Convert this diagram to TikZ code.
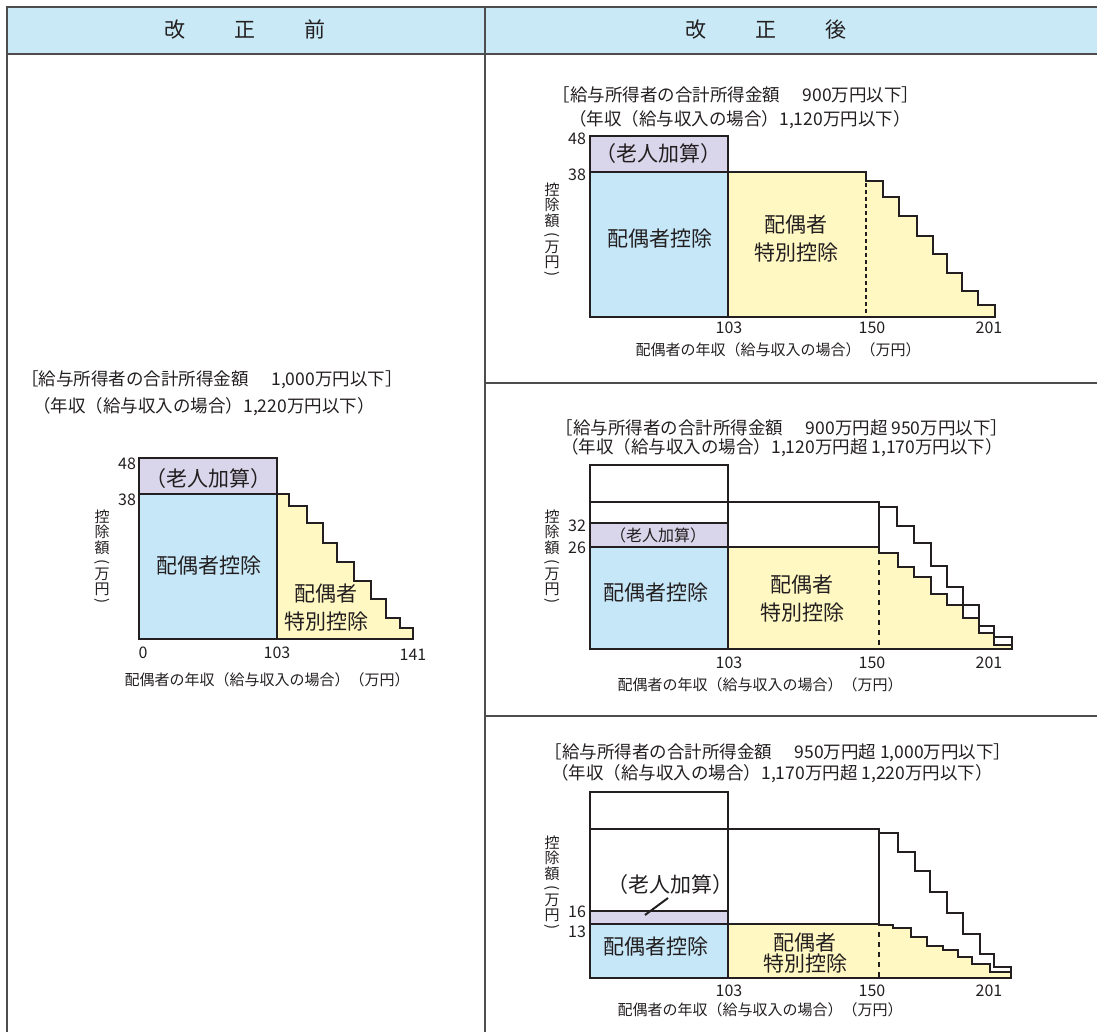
\documentclass[tikz,border=0pt]{standalone}
\usepackage{fontspec}
\setmainfont{Noto Sans CJK JP}
\definecolor{ink}{HTML}{231F20}
\definecolor{hdrblue}{HTML}{C8E9F5}
\definecolor{fblue}{HTML}{C6E7F8}
\definecolor{fpurple}{HTML}{D9D5EA}
\definecolor{fyellow}{HTML}{FFF8C2}
\tikzset{
  ol/.style={draw=ink, line width=2.6pt, line join=miter, line cap=rect},
  rule/.style={draw=ink!80, line width=1.2pt},
  ttl/.style={font=\fontsize{17.5}{20}\selectfont, inner sep=0pt, text=ink},
  hdr/.style={font=\fontsize{21}{24}\selectfont, inner sep=0pt, text=ink},
  lab/.style={font=\fontsize{21}{28}\selectfont, inner sep=0pt, text=ink, align=center},
  sublab/.style={font=\fontsize{16}{19}\selectfont, inner sep=0pt, text=ink},
  num/.style={font=\fontsize{16}{19}\selectfont, inner sep=0pt, text=ink},
  xcap/.style={font=\fontsize{15}{18}\selectfont, inner sep=0pt, text=ink},
  ycap/.style={font=\fontsize{15}{15}\selectfont, inner sep=0pt, text=ink},
  dsh/.style={draw=ink, line width=1.2pt, dash pattern=on 4pt off 3pt},
  dshb/.style={draw=ink, line width=2.4pt, dash pattern=on 5pt off 5pt},
}
\newcommand{\gap}{　\hspace{5pt}}
% vertical axis caption: name prefix, x, y of first character
\newcommand{\ylab}[3]{%
  \node[ycap] (#1a) at (#2,#3) {控};
  \node[ycap] (#1b) at (#2,#3+15) {除};
  \node[ycap] (#1c) at (#2,#3+31) {額};
  \node[ycap, rotate=-90] (#1d) at (#2,#3+45) {(};
  \node[ycap] (#1e) at (#2,#3+57) {万};
  \node[ycap] (#1f) at (#2,#3+72) {円};
  \node[ycap, rotate=-90] (#1g) at (#2,#3+84) {)};
}
\begin{document}
\begin{tikzpicture}[x=1pt,y=-1pt]
\useasboundingbox (0,0) rectangle (1097,1032);
% ---------- frame ----------
\fill[hdrblue] (7,7) rectangle (1097,54);
\draw[rule] (1097,7) -- (7,7) -- (7,1032);
\draw[rule] (7,54) -- (1097,54);
\draw[rule] (485,7) -- (485,1032);
\draw[rule] (485,383) -- (1097,383);
\draw[rule] (485,716) -- (1097,716);
\node[hdr] (hL) at (245,30) {改\hspace{49pt}正\hspace{49pt}前};
\node[hdr] (hR) at (766,30) {改\hspace{49pt}正\hspace{49pt}後};

% ================= LEFT (before) =================
\node[ttl] (L1) at (212,380) {［給与所得者の合計所得金額\gap 1,000万円以下］};
\node[ttl] (L2) at (204,407) {（年収（給与収入の場合）1,220万円以下）};
\fill[fpurple] (139,458) rectangle (277,494);
\fill[fblue] (139,494) rectangle (277,639);
\fill[fyellow] (277,494) -- (289,494) -- (289,506) -- (307,506) -- (307,523) -- (323,523) -- (323,543) -- (337,543) -- (337,562) -- (354,562) -- (354,581) -- (371,581) -- (371,599) -- (386,599) -- (386,618) -- (400,618) -- (400,628) -- (413,628) -- (413,639) -- (277,639) -- cycle;
\draw[ol] (139,458) rectangle (277,639);
\draw[ol] (139,494) -- (277,494);
\draw[ol] (277,494) -- (289,494) -- (289,506) -- (307,506) -- (307,523) -- (323,523) -- (323,543) -- (337,543) -- (337,562) -- (354,562) -- (354,581) -- (371,581) -- (371,599) -- (386,599) -- (386,618) -- (400,618) -- (400,628) -- (413,628) -- (413,639) -- (277,639);
\node[lab] (Lold) at (208,479) {（老人加算）};
\node[lab] (Lhai) at (209,566) {配偶者控除};
\node[lab] (Ltok) at (326,608) {配偶者\\特別控除};
\node[num] (L48) at (127,464) {48};
\node[num] (L38) at (127,500) {38};
\node[num] (L0) at (143,653) {0};
\node[num] (L103) at (277,653) {103};
\node[num] (L141) at (413,655) {141};
\node[xcap] (Lx) at (267,680) {配偶者の年収（給与収入の場合）（万円）};
\ylab{Ly}{102}{517}

% ================= RIGHT TOP =================
\node[ttl] (A1) at (736,95) {［給与所得者の合計所得金額\gap 900万円以下］};
\node[ttl] (A2) at (740,120) {（年収（給与収入の場合）1,120万円以下）};
\fill[fpurple] (590,136) rectangle (728,172);
\fill[fblue] (590,172) rectangle (728,317);
\fill[fyellow] (728,172) -- (866,172) -- (866,181) -- (883,181) -- (883,197) -- (899,197) -- (899,216) -- (917,216) -- (917,236) -- (933,236) -- (933,254) -- (947,254) -- (947,273) -- (962,273) -- (962,291) -- (978,291) -- (978,305) -- (995,305) -- (995,317) -- (728,317) -- cycle;
\draw[dsh] (866,183) -- (866,316);
\draw[ol] (590,136) rectangle (728,317);
\draw[ol] (590,172) -- (866,172) -- (866,181) -- (883,181) -- (883,197) -- (899,197) -- (899,216) -- (917,216) -- (917,236) -- (933,236) -- (933,254) -- (947,254) -- (947,273) -- (962,273) -- (962,291) -- (978,291) -- (978,305) -- (995,305) -- (995,317) -- (728,317);
\node[lab] (Aold) at (658,154) {（老人加算）};
\node[lab] (Ahai) at (660,239) {配偶者控除};
\node[lab] (Atok) at (796,239) {配偶者\\特別控除};
\node[num] (A48) at (577,139) {48};
\node[num] (A38) at (577,175) {38};
\node[num] (A103) at (729,328) {103};
\node[num] (A150) at (872,328) {150};
\node[num] (A201) at (989,328) {201};
\node[xcap] (Ax) at (778,350) {配偶者の年収（給与収入の場合）（万円）};
\ylab{Ay}{552}{190}

% ================= RIGHT MIDDLE =================
\node[ttl] (B1) at (782,428) {［給与所得者の合計所得金額\gap 900万円超 950万円以下］};
\node[ttl] (B2) at (782,448) {（年収（給与収入の場合）1,120万円超 1,170万円以下）};
\fill[fpurple] (590,523) rectangle (728,547);
\fill[fblue] (590,547) rectangle (728,649);
\fill[fyellow] (728,547) -- (879,547) -- (879,553) -- (898,553) -- (898,567) -- (914,567) -- (914,577) -- (931,577) -- (931,594) -- (947,594) -- (947,605) -- (963,605) -- (963,618) -- (979,618) -- (979,633) -- (994,633) -- (994,645) -- (1012,645) -- (1012,649) -- (728,649) -- cycle;
\draw[dshb] (879,560) -- (879,648);
\draw[ol] (590,465) rectangle (728,649);
\draw[ol] (590,502) -- (879,502) -- (879,507) -- (897,507) -- (897,526) -- (914,526) -- (914,543) -- (931,543) -- (931,566) -- (947,566) -- (947,587) -- (963,587) -- (963,605) -- (979,605) -- (979,626) -- (994,626) -- (994,637) -- (1012,637) -- (1012,649) -- (728,649);
\draw[ol] (590,523) -- (728,523);
\draw[ol] (590,547) -- (879,547);
\draw[ol] (879,502) -- (879,553) -- (898,553) -- (898,567) -- (914,567) -- (914,577) -- (931,577) -- (931,594) -- (947,594) -- (947,605) -- (963,605) -- (963,618) -- (979,618) -- (979,633) -- (994,633) -- (994,645) -- (1012,645);
\node[sublab] (Bold) at (658,535) {（老人加算）};
\node[lab] (Bhai) at (656,593) {配偶者控除};
\node[lab] (Btok) at (802,599) {配偶者\\特別控除};
\node[num] (B32) at (577,526) {32};
\node[num] (B26) at (577,548) {26};
\node[num] (B103) at (729,663) {103};
\node[num] (B150) at (872,663) {150};
\node[num] (B201) at (989,663) {201};
\node[xcap] (Bx) at (760,685) {配偶者の年収（給与収入の場合）（万円）};
\ylab{By}{552}{517}

% ================= RIGHT BOTTOM =================
\node[ttl] (C1) at (778,753) {［給与所得者の合計所得金額\gap 950万円超 1,000万円以下］};
\node[ttl] (C2) at (772,774) {（年収（給与収入の場合）1,170万円超 1,220万円以下）};
\fill[fpurple] (590,911) rectangle (728,924);
\fill[fblue] (590,924) rectangle (728,978);
\fill[fyellow] (728,924) -- (879,924) -- (879,925) -- (893,925) -- (893,928) -- (911,928) -- (911,937) -- (927,937) -- (927,946) -- (943,946) -- (943,950) -- (958,950) -- (958,957) -- (972,957) -- (972,964) -- (990,964) -- (990,972) -- (1011,972) -- (1011,978) -- (728,978) -- cycle;
\draw[dshb] (879,932) -- (879,977);
\draw[ol] (590,792) rectangle (728,978);
\draw[ol] (590,829) -- (879,829) -- (879,833) -- (898,833) -- (898,852) -- (915,852) -- (915,871) -- (930,871) -- (930,892) -- (947,892) -- (947,913) -- (963,913) -- (963,934) -- (980,934) -- (980,954) -- (994,954) -- (994,967) -- (1011,967) -- (1011,978) -- (728,978);
\draw[ol] (590,911) -- (728,911);
\draw[ol] (590,924) -- (879,924);
\draw[ol] (879,829) -- (879,925) -- (893,925) -- (893,928) -- (911,928) -- (911,937) -- (927,937) -- (927,946) -- (943,946) -- (943,950) -- (958,950) -- (958,957) -- (972,957) -- (972,964) -- (990,964) -- (990,972) -- (1011,972);
\node[lab] (Cold) at (670,885) {（老人加算）};
\coordinate (Cpt) at (645,915);
\draw[ink, line width=2pt] (668,898) -- (Cpt);
\node[lab] (Chai) at (656,947) {配偶者控除};
\node[lab, font=\fontsize{21}{21}\selectfont] (Ctok) at (805,953) {配偶者\\特別控除};
\node[num] (C16) at (577,912) {16};
\node[num] (C13) at (577,932) {13};
\node[num] (C103) at (729,991) {103};
\node[num] (C150) at (872,991) {150};
\node[num] (C201) at (989,991) {201};
\node[xcap] (Cx) at (760,1010) {配偶者の年収（給与収入の場合）（万円）};
\ylab{Cy}{552}{843}
\end{tikzpicture}
\end{document}
